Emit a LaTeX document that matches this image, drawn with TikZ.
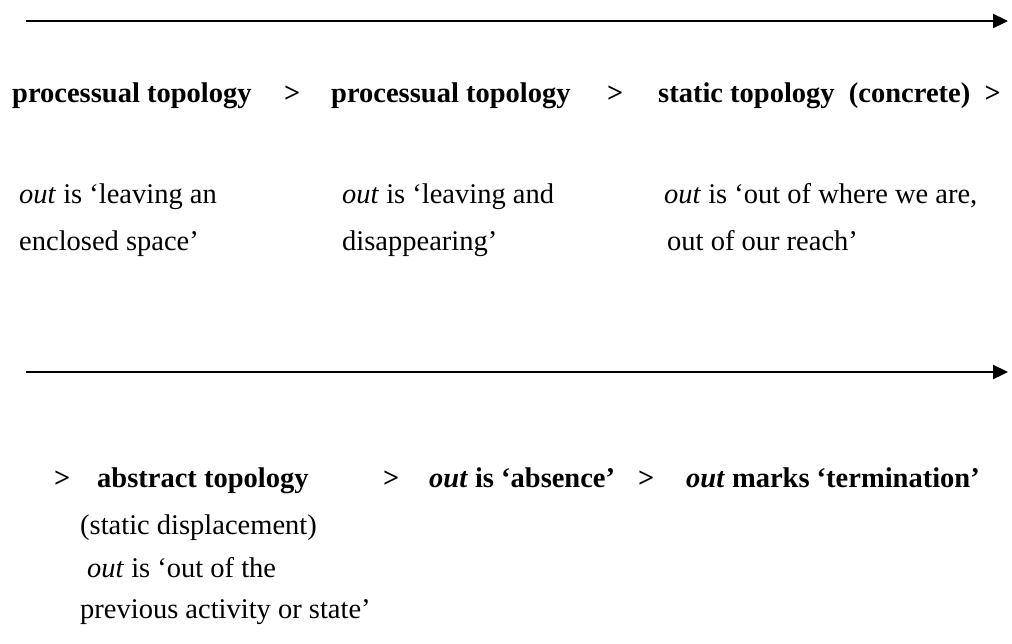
\documentclass[tikz,border=0pt]{standalone}
\usepackage{fontspec}
\setmainfont{Liberation Serif}
\usetikzlibrary{arrows.meta}
\begin{document}
\begin{tikzpicture}[x=1pt,y=-1pt,
  txt/.style={anchor=base west,inner sep=0pt,font=\fontsize{28.5}{28.5}\selectfont},
  btxt/.style={txt,font=\fontsize{28.5}{28.5}\selectfont\bfseries},
  timeline/.style={line width=2.3pt,-{Triangle[length=15pt,width=14pt]}}]
\useasboundingbox (0,0) rectangle (1012,643);
% arrows
\coordinate (a1s) at (26,21);
\coordinate (a1e) at (1008,21);
\coordinate (a2s) at (26,372);
\coordinate (a2e) at (1008,372);
\draw[timeline] (a1s) -- (a1e);
\draw[timeline] (a2s) -- (a2e);
% row 1
\node[btxt] (p1) at (12,102) {processual topology};
\node[btxt] (g1) at (284,102) {>};
\node[btxt] (p2) at (331,102) {processual topology};
\node[btxt] (g2) at (607,102) {>};
\node[btxt] (p3) at (658,102) {static topology\ \ (concrete)\ \ >};
% row 2
\node[txt] (o1a) at (19,203) {\textit{out} is ‘leaving an};
\node[txt] (o1b) at (19,250) {enclosed space’};
\node[txt] (o2a) at (342,203) {\textit{out} is ‘leaving and};
\node[txt] (o2b) at (342,250) {disappearing’};
\node[txt] (o3a) at (664,203) {\textit{out} is ‘out of where we are,};
\node[txt] (o3b) at (667,250) {out of our reach’};
% row 3
\node[btxt] (g3) at (54,487) {>};
\node[btxt] (q1) at (97,487) {abstract topology};
\node[btxt] (g4) at (383,487) {>};
\node[btxt] (q2) at (429,487) {\textit{out} is ‘absence’};
\node[btxt] (g5) at (638,487) {>};
\node[btxt] (q3) at (686,487) {\textit{out} marks ‘termination’};
\node[txt] (s1) at (80,534) {(static displacement)};
\node[txt] (s2) at (87,577) {\textit{out} is ‘out of the};
\node[txt] (s3) at (80,618) {previous activity or state’};
\end{tikzpicture}
\end{document}
